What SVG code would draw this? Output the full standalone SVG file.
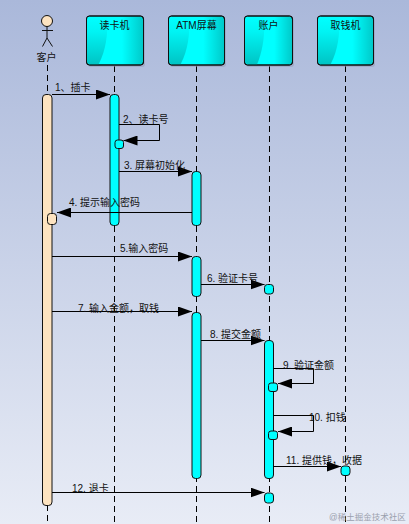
<svg xmlns="http://www.w3.org/2000/svg" width="409" height="524" viewBox="0 0 409 524">
<defs>
<linearGradient id="bg" x1="0" y1="0" x2="0" y2="1"><stop offset="0" stop-color="#aab8da"/><stop offset="1" stop-color="#e8ecf6"/></linearGradient>
<linearGradient id="box" x1="0" y1="0" x2="1" y2="0"><stop offset="0" stop-color="#00ffff"/><stop offset="0.62" stop-color="#00ffff"/><stop offset="1" stop-color="#00c8c8"/></linearGradient>
<linearGradient id="sw" x1="0" y1="0" x2="0" y2="1"><stop offset="0" stop-color="#00ffff"/><stop offset="0.3" stop-color="#00f4f4"/><stop offset="1" stop-color="#00c4c4"/></linearGradient>
<marker id="arr" markerUnits="userSpaceOnUse" markerWidth="14" markerHeight="10" refX="14" refY="5" orient="auto"><polygon points="0,0 14,5 0,10" fill="#000"/></marker>
</defs>
<style>
text{font-family:"Liberation Sans","Noto Sans CJK SC",sans-serif;font-size:10px;fill:#111}
.n{text-anchor:middle}
.shadow{fill:#8f9ab5;opacity:.5}
.box{fill:url(#box);stroke:#111;stroke-width:1}
.edge{fill:none;stroke:#111;stroke-width:1}
.swoop{fill:url(#sw)}
.life{stroke:#000;stroke-width:1;stroke-dasharray:6 4;fill:none}
.act{fill:#00ffff;stroke:#111;stroke-width:1}
.cli{fill:#fde3c0;stroke:#111;stroke-width:1}
.msg{stroke:#000;stroke-width:1;fill:none;marker-end:url(#arr)}
</style>
<rect width="409" height="524" fill="url(#bg)"/>
<g id="lifelines">
<line class="life" x1="47.5" y1="65" x2="47.5" y2="524"/>
<line class="life" x1="114.5" y1="66" x2="114.5" y2="524"/>
<line class="life" x1="196.5" y1="66" x2="196.5" y2="524"/>
<line class="life" x1="269.5" y1="66" x2="269.5" y2="524"/>
<line class="life" x1="345.5" y1="66" x2="345.5" y2="524"/>
</g>
<g id="actor-customer">
<circle cx="47" cy="21" r="5.5" class="cli"/>
<path d="M47 26.500V38M42 30.500H53M47 38L42.500 46.500M47 38L52.500 46.500" stroke="#111" fill="none"/>
<text class="n" x="46.500" y="61">客户</text>
</g>
<g id="node-reader">
<rect class="shadow" x="88" y="18" width="57" height="49" rx="3"/>
<rect class="box" x="86.500" y="16" width="57" height="49" rx="3"/>
<path class="swoop" d="M87 62V17H107C108 35 106 50 98.500 64.500H89Z"/>
<rect class="edge" x="86.500" y="16" width="57" height="49" rx="3"/>
<text class="n" x="114.500" y="29">读卡机</text>
</g>
<g id="node-screen">
<rect class="shadow" x="170" y="18" width="56" height="49" rx="3"/>
<rect class="box" x="168.500" y="16" width="56" height="49" rx="3"/>
<path class="swoop" d="M169 62V17H189C190 35 188 50 180.500 64.500H171Z"/>
<rect class="edge" x="168.500" y="16" width="56" height="49" rx="3"/>
<text class="n" x="196.500" y="29">ATM屏幕</text>
</g>
<g id="node-account">
<rect class="shadow" x="246" y="18" width="48" height="49" rx="3"/>
<rect class="box" x="244.500" y="16" width="48" height="49" rx="3"/>
<path class="swoop" d="M245 62V17H264C265 35 263 50 257 64.500H247Z"/>
<rect class="edge" x="244.500" y="16" width="48" height="49" rx="3"/>
<text class="n" x="268.500" y="29">账户</text>
</g>
<g id="node-atm">
<rect class="shadow" x="319" y="18" width="56" height="49" rx="3"/>
<rect class="box" x="317.500" y="16" width="56" height="49" rx="3"/>
<path class="swoop" d="M318 62V17H339C340 35 338 50 330.500 64.500H320Z"/>
<rect class="edge" x="317.500" y="16" width="56" height="49" rx="3"/>
<text class="n" x="345.500" y="29">取钱机</text>
</g>
<g id="activations">
<rect class="cli" x="42.500" y="94.500" width="9.500" height="411" rx="3.500"/>
<rect class="act" x="110" y="94.500" width="9" height="131" rx="3.500"/>
<rect class="act" x="115" y="140" width="8.500" height="8.500" rx="2.500"/>
<rect class="act" x="192" y="171.500" width="9" height="54" rx="3.500"/>
<rect class="cli" x="47.500" y="213.500" width="9" height="11" rx="3"/>
<rect class="act" x="192" y="256.500" width="9" height="40" rx="3.500"/>
<rect class="act" x="264.500" y="284.500" width="9" height="9.500" rx="3"/>
<rect class="act" x="192" y="312.500" width="9" height="166" rx="3.500"/>
<rect class="act" x="264.500" y="340.500" width="9" height="138" rx="3.500"/>
<rect class="act" x="268.500" y="383" width="9" height="8.500" rx="2.500"/>
<rect class="act" x="268.500" y="431" width="9" height="8.500" rx="2.500"/>
<rect class="act" x="341" y="466" width="9" height="9.500" rx="3"/>
<rect class="act" x="264.500" y="493" width="9" height="10" rx="3"/>
</g>
<g id="connectors">
<path class="msg" d="M52 94.500H110"/>
<path class="msg" d="M119 124.500H159.500V140.500H123.500"/>
<path class="msg" d="M119 171.500H192"/>
<path class="msg" d="M192 212.500H57"/>
<path class="msg" d="M52 256.500H192"/>
<path class="msg" d="M201 284.500H264.500"/>
<path class="msg" d="M52 311.500H192"/>
<path class="msg" d="M201 340.500H264.500"/>
<path class="msg" d="M273.500 368.500H313.500V383.500H278"/>
<path class="msg" d="M273.500 415.500H313.500V431.500H278"/>
<path class="msg" d="M273.500 466.500H341"/>
<path class="msg" d="M52 492.500H264.500"/>
</g>
<g id="labels">
<text x="55" y="91">1、插卡</text>
<text x="123" y="123">2、读卡号</text>
<text x="124" y="169">3. 屏幕初始化</text>
<text x="69" y="206">4. 提示输入密码</text>
<text x="120" y="252">5.输入密码</text>
<text x="207" y="282">6. 验证卡号</text>
<text x="78" y="312">7. 输入金额，取钱</text>
<text x="210" y="338">8. 提交金额</text>
<text x="283" y="369">9. 验证金额</text>
<text x="309" y="421">10. 扣钱</text>
<text x="286" y="464">11. 提供钱，收据</text>
<text x="72" y="492">12. 退卡</text>
<text x="329" y="520" style="fill:#9aa0ad;font-size:8.5px">@稀土掘金技术社区</text>
</g>
</svg>
